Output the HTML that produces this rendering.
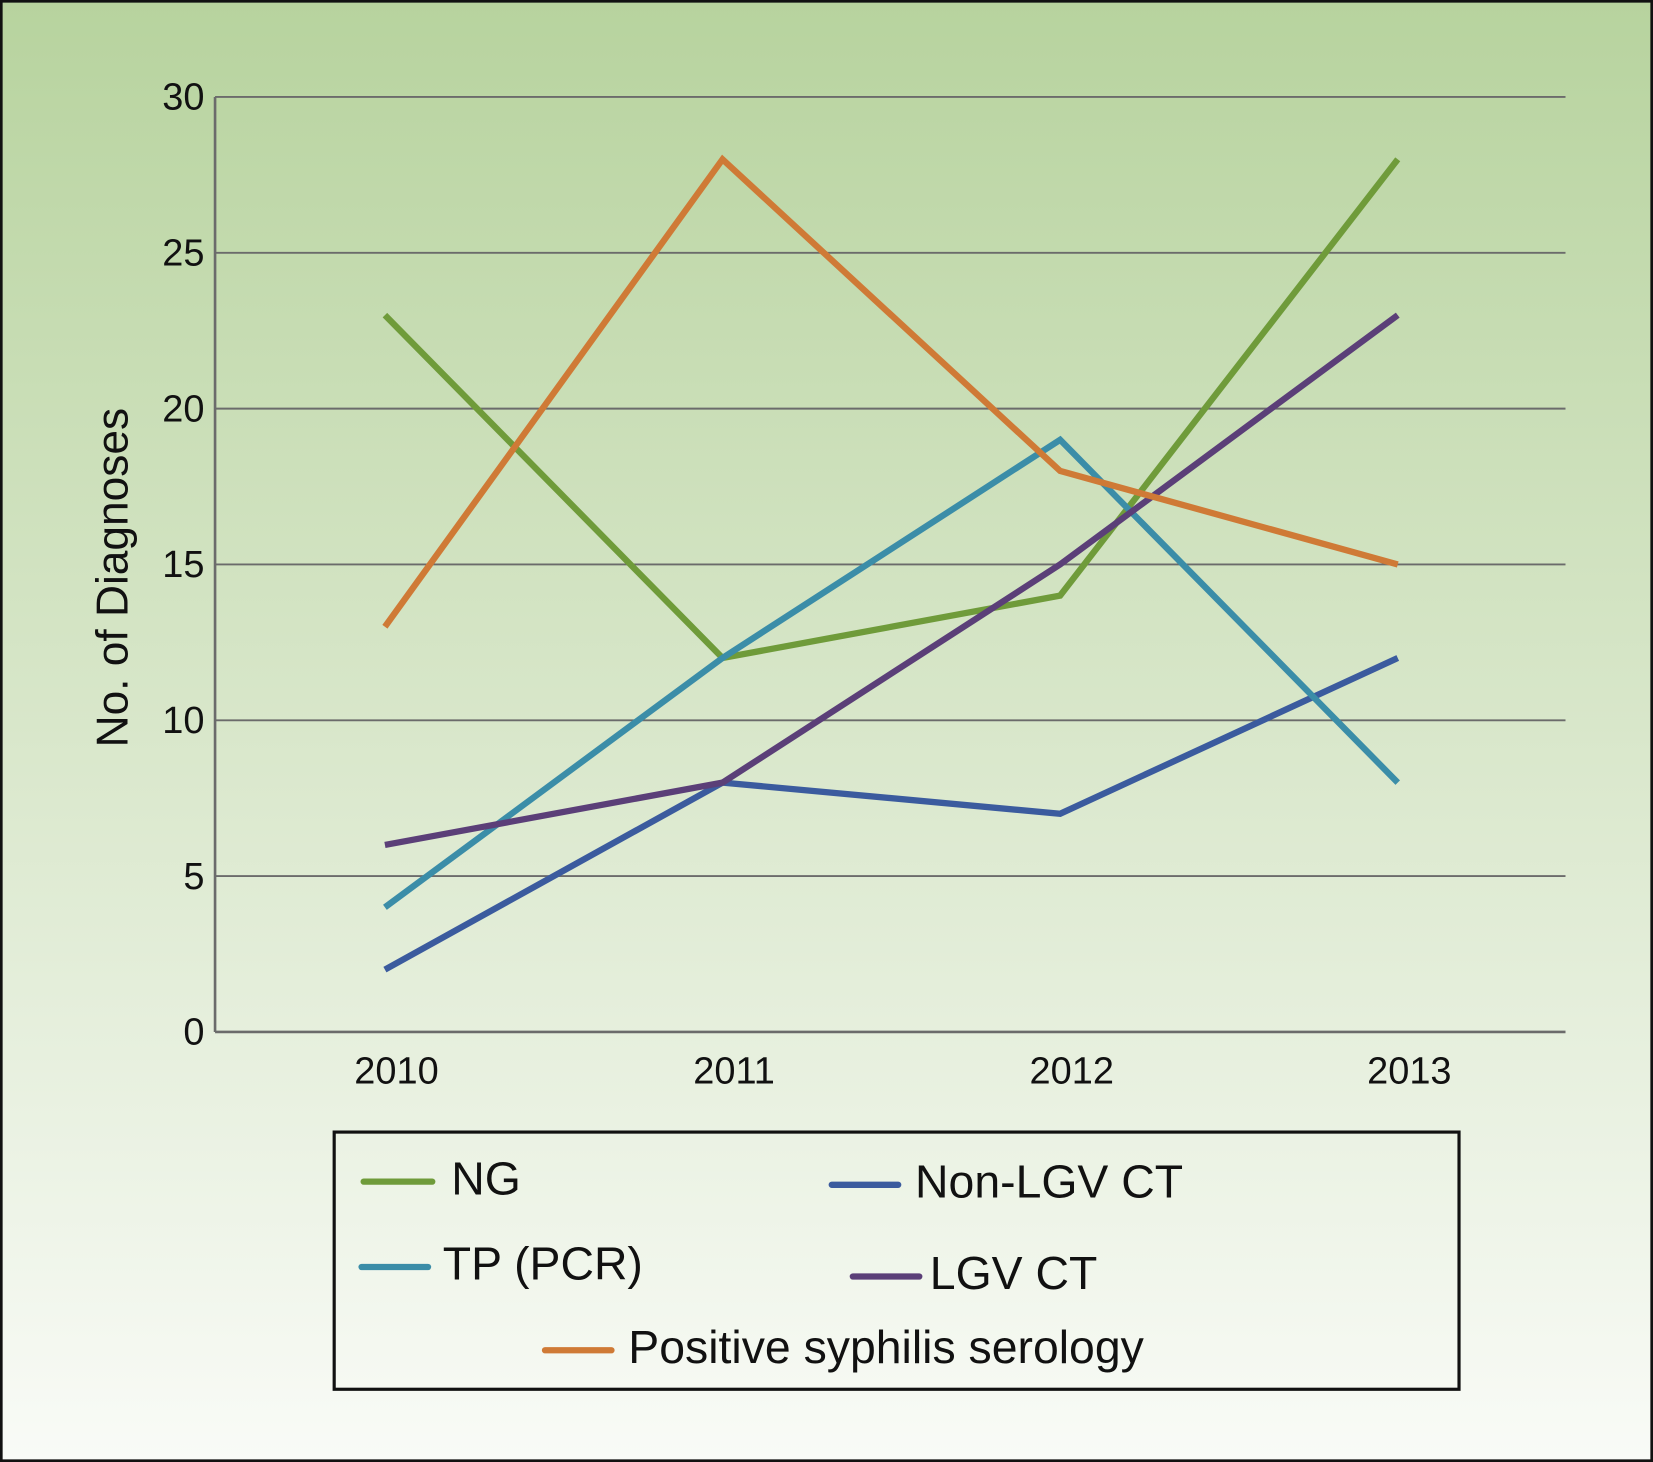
<!DOCTYPE html>
<html><head><meta charset="utf-8"><style>
html,body{margin:0;padding:0;background:#fff}
svg{display:block}
text{font-family:"Liberation Sans",Arial,sans-serif;fill:#111}
</style></head><body>
<svg id="chart" width="1653" height="1462" viewBox="0 0 1568 1387" preserveAspectRatio="none" xmlns="http://www.w3.org/2000/svg">
<defs><linearGradient id="bg" x1="0" y1="0" x2="0" y2="1">
<stop offset="0" stop-color="#b7d39e"/><stop offset="0.55" stop-color="#dce9cf"/><stop offset="1" stop-color="#f9fbf7"/></linearGradient></defs>
<rect x="1" y="1" width="1566" height="1385" fill="url(#bg)" stroke="#111" stroke-width="3"/>
<g id="grid"></g><g id="series"></g>
<text transform="translate(121,548) rotate(-90)" text-anchor="middle" font-size="42">No. of Diagnoses</text>
<rect x="317" y="1074" width="1067" height="244" fill="none" stroke="#111" stroke-width="3"/>
<g id="legend"></g>
</svg>
<script>
const categories=["2010","2011","2012","2013"];
const yTicks=[0,5,10,15,20,25,30];
const seriesNames=["NG","Non-LGV CT","TP (PCR)","LGV CT","Positive syphilis serology"];
const ngValues=[23,12,14,28];
const nonLgvValues=[2,8,7,12];
const tpValues=[4,12,19,8];
const lgvValues=[6,8,15,23];
const syphValues=[13,28,18,15];
const NS="http://www.w3.org/2000/svg";
const L=204,R=1485,T=92,B=979,ymax=30;
const y=v=>B-(v/ymax)*(B-T);
const x=i=>L+1+(R-L)/categories.length*(i+0.5);
function mk(tag,attrs,parent){const e=document.createElementNS(NS,tag);for(const k in attrs)e.setAttribute(k,attrs[k]);parent.appendChild(e);return e;}
const grid=document.getElementById('grid');
yTicks.forEach(t=>{
 const ln=mk('line',{x1:L,x2:R,y1:y(t),y2:y(t),stroke:'#6b6b6b','stroke-width':t===0?2.5:1.8},grid);
 
 
 const tx=mk('text',{x:194,y:y(t)+12,'text-anchor':'end','font-size':36},grid);tx.textContent=t;
 
 
});
const ax=mk('line',{x1:L,x2:L,y1:T,y2:B,stroke:'#6b6b6b','stroke-width':2.5},grid);


categories.forEach((c,i)=>{
 const tx=mk('text',{x:x(i)+11,y:1028,'text-anchor':'middle','font-size':36},grid);tx.textContent=c;
 
 
});
const data=[ngValues,nonLgvValues,tpValues,lgvValues,syphValues];
const colors=["#6f9b3a","#3b5b9e","#3b8da8","#5b3f78","#cf7a36"];
const order=[0,1,2,3,4];
const sg=document.getElementById('series');
order.forEach(s=>{
 const p=mk('polyline',{points:data[s].map((v,i)=>x(i)+','+y(v)).join(' '),fill:'none',stroke:colors[s],'stroke-width':6,'stroke-linejoin':'miter'},sg);
 
 
});
const lg=document.getElementById('legend');
const legPos=[[345,410,428,1133],[789,852,868,1136],[343,406,420,1214],[809,872,882,1223],[517,580,596,1293]];
legPos.forEach((p,s)=>{
 const l=mk('line',{x1:p[0],x2:p[1],y1:p[3]-12,y2:p[3]-12,stroke:colors[s],'stroke-width':6,'stroke-linecap':'round'},lg);
 
 
 const t=mk('text',{x:p[2],y:p[3],'font-size':44},lg);t.textContent=seriesNames[s];
 
 
});
</script>
</body></html>
